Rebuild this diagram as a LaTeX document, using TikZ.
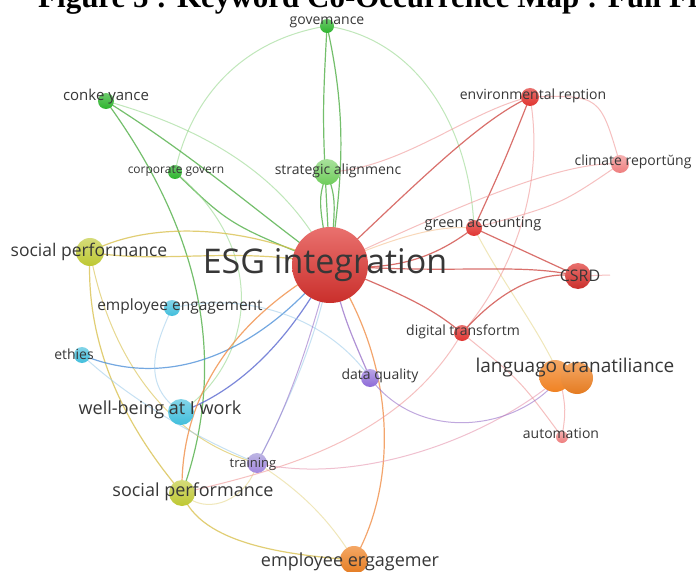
\documentclass[tikz,border=0pt]{standalone}
\usepackage{fontspec}
\setmainfont{Open Sans}
\newfontfamily\titlefont{Liberation Serif}
\newcommand\kfs[1]{\fontsize{#1}{#1}\selectfont}
\definecolor{cRed}{RGB}{224,52,48}
\definecolor{cGreen}{RGB}{45,180,45}
\definecolor{cLGreen}{RGB}{110,205,90}
\definecolor{cYel}{RGB}{190,200,50}
\definecolor{cCyan}{RGB}{65,190,220}
\definecolor{cPurp}{RGB}{140,105,215}
\definecolor{cLav}{RGB}{160,150,215}
\definecolor{cOrg}{RGB}{240,130,35}
\definecolor{cPink}{RGB}{238,125,125}
\definecolor{lblgray}{RGB}{55,55,55}
\definecolor{eGreen}{RGB}{70,170,60}
\definecolor{eLGreen}{RGB}{150,215,140}
\definecolor{eYel}{RGB}{215,190,70}
\definecolor{eLYel}{RGB}{230,215,140}
\definecolor{eBlue}{RGB}{70,140,215}
\definecolor{eDBlue}{RGB}{80,95,205}
\definecolor{eLBlue}{RGB}{160,205,235}
\definecolor{eOrg}{RGB}{240,135,60}
\definecolor{eLOrg}{RGB}{245,190,140}
\definecolor{eRed}{RGB}{205,65,60}
\definecolor{eLRed}{RGB}{240,150,150}
\definecolor{ePurp}{RGB}{150,110,200}
\definecolor{ePink}{RGB}{230,150,175}
\begin{document}
\begin{tikzpicture}[x=1pt,y=-1pt,
  kwdot/.style={circle, inner sep=0pt, minimum size=#1},
  lbl/.style={text=lblgray, inner sep=0pt, anchor=center},
  edg/.style={draw=#1, line width=1.2pt, opacity=0.75},
  ledg/.style={draw=#1, line width=1pt, opacity=0.6}]
\useasboundingbox (0,0) rectangle (696,572);
\fill[white] (0,0) rectangle (696,572);
\clip (0,0) rectangle (696,572);

% positions
\coordinate (esg) at (330,265);
\coordinate (gov) at (327,26);
\coordinate (conv) at (106,101);
\coordinate (corp) at (175,172);
\coordinate (strat) at (327,172);
\coordinate (env) at (530,97);
\coordinate (clim) at (620,164);
\coordinate (gacc) at (474,228);
\coordinate (csrd) at (578,276);
\coordinate (csrdend) at (610,275);
\coordinate (dig) at (462,333);
\coordinate (lang) at (560,377);
\coordinate (auto) at (562,437);
\coordinate (dq) at (370,378);
\coordinate (spa) at (90,252);
\coordinate (eea) at (172,308);
\coordinate (eth) at (82,355);
\coordinate (wb) at (181,412);
\coordinate (trn) at (257,463);
\coordinate (spb) at (182,493);
\coordinate (eeb) at (354,560);

% green edges
\draw[edg=eGreen] (gov) .. controls (322,120) .. (esg);
\draw[edg=eGreen] (gov) .. controls (348,120) and (342,180) .. (esg);
\draw[ledg=eLGreen] (gov) .. controls (240,40) and (190,100) .. (corp);
\draw[ledg=eLGreen] (gov) .. controls (420,40) and (470,130) .. (gacc);
\draw[edg=eGreen] (conv) .. controls (200,160) and (260,215) .. (esg);
\draw[ledg=eLGreen] (conv) .. controls (210,130) and (290,180) .. (esg);
\draw[edg=eGreen] (conv) .. controls (200,230) and (230,360) .. (spb);
\draw[edg=eGreen] (corp) .. controls (230,225) .. (esg);
\draw[ledg=eLGreen] (corp) .. controls (270,250) and (255,360) .. (wb);
\draw[edg=eGreen] (strat) .. controls (318,200) .. (esg);
\draw[edg=eGreen] (strat) .. controls (336,200) .. (esg);

% yellow edges
\draw[edg=eYel] (spa) .. controls (150,220) and (250,225) .. (esg);
\draw[edg=eYel] (spa) .. controls (160,265) and (240,245) .. (esg);
\draw[edg=eYel] (spa) .. controls (85,340) and (120,420) .. (spb);
\draw[edg=eYel] (spb) .. controls (200,545) and (290,555) .. (eeb);
\draw[ledg=eYel] (spa) .. controls (110,360) and (170,440) .. (trn);
\draw[ledg=eLYel] (trn) .. controls (300,490) and (330,520) .. (eeb);
\draw[ledg=eLYel] (spb) .. controls (210,520) and (250,495) .. (trn);
\draw[ledg=eLYel] (gacc) .. controls (500,280) and (540,330) .. (lang);

% blue edges
\draw[edg=eBlue] (eth) .. controls (180,395) and (270,340) .. (esg);
\draw[edg=eDBlue] (wb) .. controls (240,390) and (290,340) .. (esg);
\draw[ledg=eLBlue] (eth) .. controls (130,400) and (200,440) .. (trn);
\draw[ledg=eLBlue] (eea) .. controls (155,345) and (140,385) .. (wb);
\draw[ledg=eLBlue] (eea) .. controls (250,290) and (330,320) .. (dq);
\draw[ledg=eLBlue] (trn) .. controls (290,400) and (320,330) .. (esg);

% orange edges
\draw[edg=eOrg] (spb) .. controls (180,400) and (230,320) .. (esg);
\draw[edg=eOrg] (eeb) .. controls (400,480) and (395,360) .. (esg);
\draw[ledg=eLOrg] (esg) .. controls (400,235) and (440,225) .. (gacc);

% red edges
\draw[edg=eRed] (esg) .. controls (420,180) and (480,120) .. (env);
\draw[ledg=eLRed] (strat) .. controls (400,170) and (470,110) .. (env);
\draw[edg=eRed] (esg) .. controls (410,275) and (450,245) .. (gacc);
\draw[edg=eRed] (gacc) .. controls (505,160) .. (env);
\draw[ledg=eLRed] (env) .. controls (548,200) and (500,290) .. (dig);
\draw[edg=eRed] (gacc) -- (csrd);
\draw[edg=eRed] (esg) .. controls (420,300) and (440,315) .. (dig);
\draw[edg=eRed] (dig) .. controls (500,290) and (540,270) .. (csrd);
\draw[edg=eRed] (esg) .. controls (450,275) and (520,262) .. (csrd);
\draw[ledg=eLRed] (csrd) -- (csrdend);
\draw[ledg=eLRed] (esg) .. controls (450,210) and (560,160) .. (clim);
\draw[ledg=eLRed] (clim) .. controls (560,205) .. (gacc);
\draw[ledg=eLRed] (env) .. controls (600,95) .. (clim);
\draw[ledg=eLRed] (dig) .. controls (520,380) .. (auto);
\draw[ledg=eLRed] (dig) .. controls (400,440) and (280,470) .. (spb);
\draw[ledg=ePink] (trn) .. controls (350,485) and (480,445) .. (lang);
\draw[ledg=eLRed] (lang) .. controls (566,410) .. (auto);

% purple edges
\draw[edg=ePurp] (esg) .. controls (345,320) .. (dq);
\draw[ledg=ePurp] (esg) .. controls (300,380) and (275,430) .. (trn);
\draw[ledg=ePurp] (dq) .. controls (420,445) and (520,430) .. (lang);

% circles
\node[kwdot=76pt, top color=cRed!70!white, bottom color=cRed!90!black] (esgc) at (esg) {};
\node[kwdot=14pt, top color=cGreen!70!white, bottom color=cGreen] (govc) at (gov) {};
\node[kwdot=16pt, top color=cGreen!70!white, bottom color=cGreen] (convc) at (conv) {};
\node[kwdot=14pt, top color=cGreen!70!white, bottom color=cGreen] (corpc) at (corp) {};
\node[kwdot=26pt, top color=cLGreen!60!white, bottom color=cLGreen] (stratc) at (strat) {};
\node[kwdot=18pt, top color=cRed!70!white, bottom color=cRed] (envc) at (env) {};
\node[kwdot=18pt, top color=cPink!60!white, bottom color=cPink] (climc) at (clim) {};
\node[kwdot=16pt, top color=cRed!70!white, bottom color=cRed] (gaccc) at (gacc) {};
\node[kwdot=26pt, top color=cRed!70!white, bottom color=cRed!90!black] (csrdc) at (csrd) {};
\node[kwdot=16pt, top color=cRed!70!white, bottom color=cRed] (digc) at (dig) {};
\node[kwdot=32pt, top color=cOrg!70!white, bottom color=cOrg] (langc) at (555,376) {};
\node[kwdot=32pt, top color=cOrg!70!white, bottom color=cOrg!95!black] (langd) at (577,378) {};
\node[kwdot=12pt, top color=cPink!60!white, bottom color=cPink] (autoc) at (auto) {};
\node[kwdot=18pt, top color=cPurp!60!white, bottom color=cPurp] (dqc) at (dq) {};
\node[kwdot=28pt, top color=cYel!65!white, bottom color=cYel] (spac) at (spa) {};
\node[kwdot=16pt, top color=cCyan!65!white, bottom color=cCyan] (eeac) at (eea) {};
\node[kwdot=16pt, top color=cCyan!65!white, bottom color=cCyan] (ethc) at (eth) {};
\node[kwdot=26pt, top color=cCyan!65!white, bottom color=cCyan] (wbc) at (wb) {};
\node[kwdot=20pt, top color=cLav!70!white, bottom color=cPurp!80!white] (trnc) at (trn) {};
\node[kwdot=26pt, top color=cYel!65!white, bottom color=cYel] (spbc) at (spb) {};
\node[kwdot=28pt, top color=cOrg!70!white, bottom color=cOrg!95!black] (eebc) at (eeb) {};

% labels
\node[lbl, font=\kfs{34}] (esgl) at (325,265) {ESG integration};
\node[lbl, font=\kfs{14}] (govl) at (327,22) {govemance};
\node[lbl, font=\kfs{15}] (convl) at (106,97) {conke yance};
\node[lbl, font=\kfs{12}] (corpl) at (176,171) {corporate govern};
\node[lbl, font=\kfs{14}] (stratl) at (338,171) {strategic alignmenc};
\node[lbl, font=\kfs{14}] (envl) at (533,96) {environmental reption};
\node[lbl, font=\kfs{14}] (climl) at (633,162) {climate reportŭng};
\node[lbl, font=\kfs{14.5}] (gaccl) at (483,224) {green accounting};
\node[lbl, font=\kfs{16}] (csrdl) at (580,276) {CSRD};
\node[lbl, font=\kfs{14}] (digl) at (463,332) {digital transfortm};
\node[lbl, font=\kfs{19}] (langl) at (575,368) {languago cranatiliance};
\node[lbl, font=\kfs{14}] (autol) at (561,433) {automation};
\node[lbl, font=\kfs{14}] (dql) at (380,376) {data quality};
\node[lbl, font=\kfs{17.5}] (spal) at (89,252) {social performance};
\node[lbl, font=\kfs{15.5}] (eeal) at (180,306) {employee engagement};
\node[lbl, font=\kfs{14}] (ethl) at (74,354) {ethies};
\node[lbl, font=\kfs{18}] (wbl) at (160,410) {well-being at I work};
\node[lbl, font=\kfs{13}] (trnl) at (253,464) {training};
\node[lbl, font=\kfs{18}] (spbl) at (193,492) {social performance};
\node[lbl, font=\kfs{18}] (eebl) at (350,562) {employee ergagemer};

% title (cut at top)
\node[anchor=base west, inner sep=0pt, font=\titlefont\bfseries\kfs{31}] (title) at (38,7.5) {Figure 5 : Keyword Co-Occurrence Map : Full Framework};
\end{tikzpicture}
\end{document}
